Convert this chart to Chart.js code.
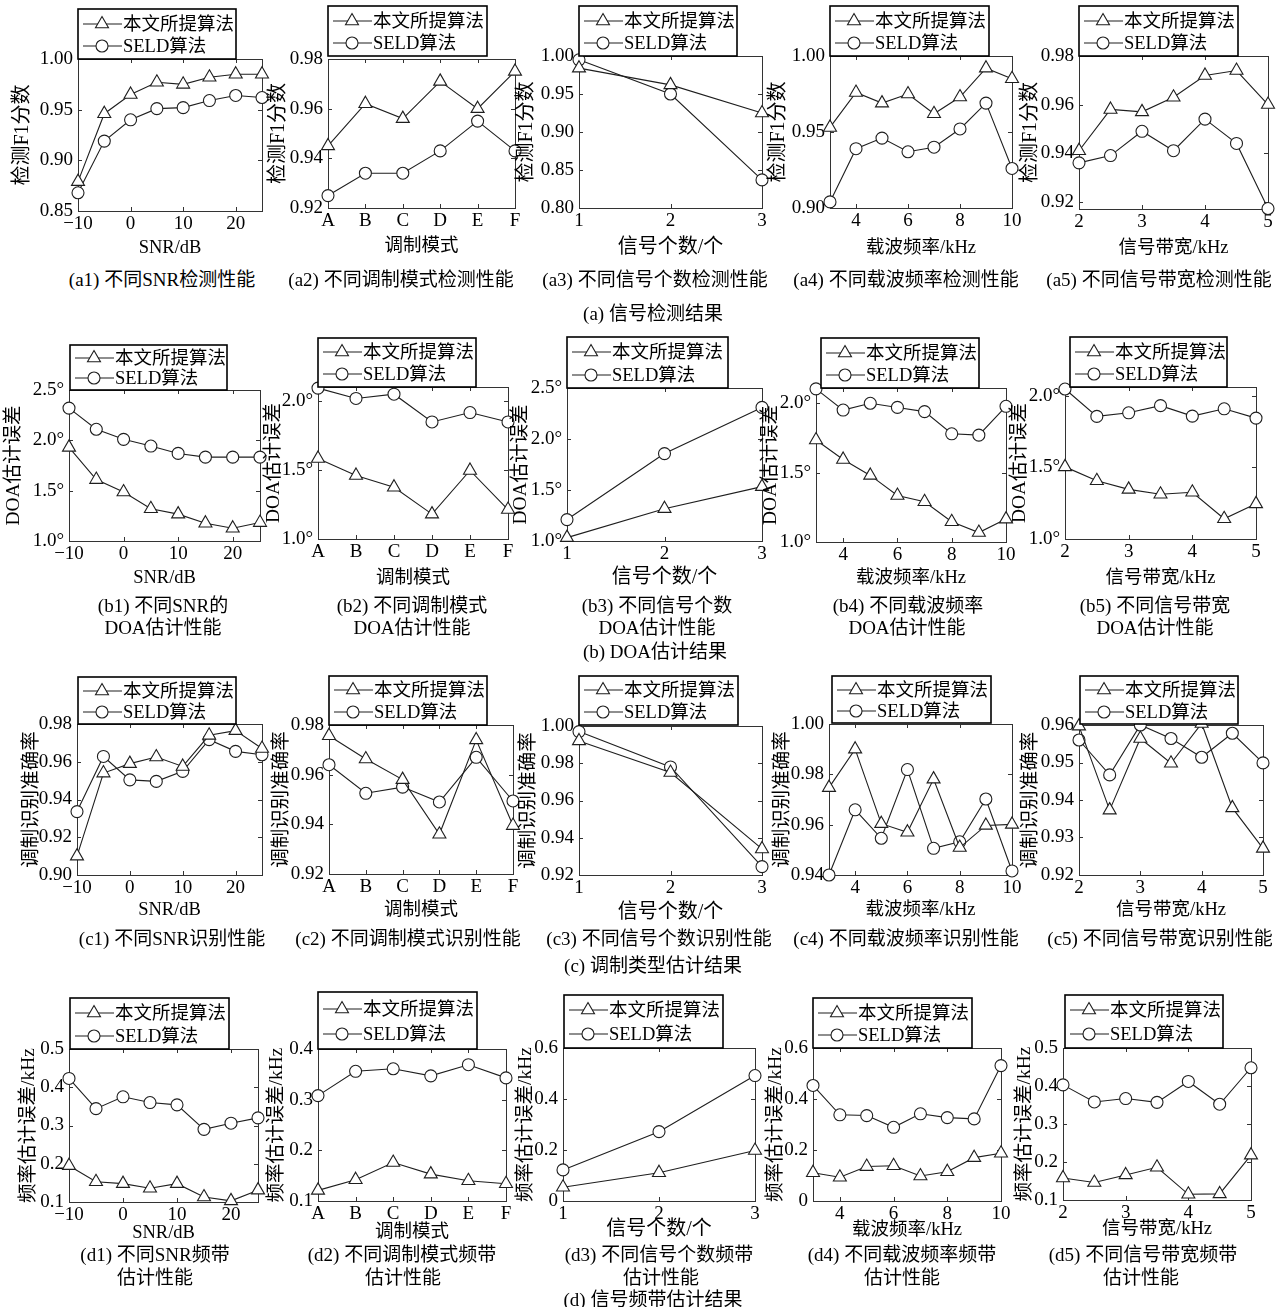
<!DOCTYPE html>
<html>
<head>
<meta charset="utf-8">
<script src="https://cdn.jsdelivr.net/npm/chart.js@4.4.1/dist/chart.umd.min.js"></script>
<style>
  body { margin: 0; background: #fff; }
  #page { position: relative; width: 1279px; height: 1307px; overflow: hidden; background: #fff; }
  #page canvas { position: absolute; }
  .cap { position: absolute; transform: translate(-50%, -50%); white-space: nowrap;
         font: 19px 'Liberation Serif', 'Noto Sans CJK SC', serif; color: #000; }
</style>
</head>
<body>
<div id="page"></div>
<script>
const FONT = "'Liberation Serif', 'Noto Sans CJK SC', serif";
const seriesNames = ['本文所提算法', 'SELD算法'];

// x categories
const snrX = [-10, -5, 0, 5, 10, 15, 20, 25];
const modeX = ['A', 'B', 'C', 'D', 'E', 'F'];
const countX = [1, 2, 3];
const carrierX = [3, 4, 5, 6, 7, 8, 9, 10];
const bandX = [2, 2.5, 3, 3.5, 4, 4.5, 5];

// x tick labels
const snrTicks = [-10, 0, 10, 20];
const countTicks = [1, 2, 3];
const carrierTicks = [4, 6, 8, 10];
const bandTicks = [2, 3, 4, 5];

// (a) detection F1
const a1Ours = [0.879, 0.946, 0.965, 0.977, 0.975, 0.982, 0.985, 0.985];
const a1Seld = [0.868, 0.919, 0.940, 0.951, 0.952, 0.959, 0.964, 0.962];
const a2Ours = [0.945, 0.962, 0.956, 0.971, 0.960, 0.975];
const a2Seld = [0.925, 0.934, 0.934, 0.943, 0.955, 0.943];
const a3Ours = [0.984, 0.962, 0.925];
const a3Seld = [0.995, 0.950, 0.837];
const a4Ours = [0.953, 0.976, 0.969, 0.975, 0.962, 0.973, 0.992, 0.985];
const a4Seld = [0.904, 0.939, 0.946, 0.937, 0.940, 0.952, 0.969, 0.926];
const a5Ours = [0.941, 0.958, 0.957, 0.963, 0.972, 0.974, 0.960];
const a5Seld = [0.936, 0.939, 0.949, 0.941, 0.954, 0.944, 0.9172];

// (b) DOA error (deg)
const b1Ours = [1.93, 1.61, 1.487, 1.32, 1.267, 1.177, 1.127, 1.183];
const b1Seld = [2.32, 2.11, 2.01, 1.943, 1.87, 1.833, 1.833, 1.833];
const b2Ours = [1.583, 1.46, 1.375, 1.18, 1.496, 1.213];
const b2Seld = [2.092, 2.017, 2.048, 1.847, 1.915, 1.847];
const b3Ours = [1.033, 1.317, 1.533];
const b3Seld = [1.21, 1.857, 2.31];
const b4Ours = [1.735, 1.595, 1.48, 1.335, 1.29, 1.146, 1.068, 1.165];
const b4Seld = [2.104, 1.951, 2.0, 1.97, 1.94, 1.78, 1.77, 1.978];
const b5Ours = [1.503, 1.406, 1.346, 1.312, 1.326, 1.141, 1.245];
const b5Seld = [2.046, 1.855, 1.88, 1.93, 1.857, 1.908, 1.843];

// (c) modulation accuracy
const c1Ours = [0.910, 0.954, 0.959, 0.9625, 0.9575, 0.974, 0.9765, 0.967];
const c1Seld = [0.9336, 0.9628, 0.9504, 0.9496, 0.9549, 0.9717, 0.9655, 0.9637];
const c2Ours = [0.9757, 0.9663, 0.958, 0.936, 0.974, 0.9395];
const c2Seld = [0.964, 0.9525, 0.955, 0.949, 0.967, 0.9494];
const c3Ours = [0.992, 0.975, 0.934];
const c3Seld = [0.997, 0.978, 0.9245];
const c4Ours = [0.9747, 0.990, 0.9604, 0.957, 0.9781, 0.9509, 0.9597, 0.9601];
const c4Seld = [0.9400, 0.9659, 0.9546, 0.9819, 0.9506, 0.9532, 0.9702, 0.9416];
const c5Ours = [0.9597, 0.9373, 0.9564, 0.9498, 0.9604, 0.9379, 0.9271];
const c5Seld = [0.956, 0.9467, 0.960, 0.9564, 0.9514, 0.9578, 0.9499];

// (d) band error (kHz)
const d1Ours = [0.195, 0.153, 0.148, 0.136, 0.148, 0.113, 0.103, 0.131];
const d1Seld = [0.423, 0.344, 0.375, 0.360, 0.354, 0.290, 0.306, 0.320];
const d2Ours = [0.121, 0.142, 0.176, 0.153, 0.140, 0.134];
const d2Seld = [0.308, 0.356, 0.361, 0.347, 0.369, 0.343];
const d3Ours = [0.054, 0.111, 0.198];
const d3Seld = [0.122, 0.272, 0.492];
const d4Ours = [0.111, 0.093, 0.135, 0.138, 0.098, 0.115, 0.170, 0.187];
const d4Seld = [0.453, 0.338, 0.335, 0.289, 0.342, 0.327, 0.322, 0.531];
const d5Ours = [0.158, 0.146, 0.166, 0.186, 0.115, 0.116, 0.218];
const d5Seld = [0.403, 0.358, 0.367, 0.357, 0.412, 0.352, 0.448];

const f2 = v => v.toFixed(2);
const fDeg = v => v.toFixed(1) + '°';
const f1 = v => (v === 0 ? '0' : v.toFixed(1));
const fX = v => (v < 0 ? '−' + Math.abs(v) : String(v));

const yTitleA = '检测F1分数', yTitleB = 'DOA估计误差', yTitleC = '调制识别准确率', yTitleD = '频率估计误差/kHz';

// plot: [left, top, right, bottom] of the axes box on the page; legend: box on the page
const panels = [
  {xs: snrX, xTicks: snrTicks, ours: a1Ours, seld: a1Seld, y: [0.85, 1.00], yTicks: [0.85, 0.90, 0.95, 1.00], fmt: f2,
   xTitle: 'SNR/dB', yTitle: yTitleA, plot: [78, 59, 262, 211], legend: [78, 9, 236, 59], yOff: -55, xOff: 37},
  {xs: modeX, ours: a2Ours, seld: a2Seld, y: [0.92, 0.98], yTicks: [0.92, 0.94, 0.96, 0.98], fmt: f2,
   xTitle: '调制模式', yTitle: yTitleA, plot: [328, 59, 515, 208], legend: [328, 6, 487, 56], yOff: -49, xOff: 38},
  {xs: countX, xTicks: countTicks, ours: a3Ours, seld: a3Seld, y: [0.80, 1.00], yTicks: [0.80, 0.85, 0.90, 0.95, 1.00], fmt: f2,
   xTitle: '信号个数/个', yTitle: yTitleA, plot: [579, 56, 762, 208], legend: [579, 6, 737, 56], yOff: -52, xOff: 40, xTitleSize: 20},
  {xs: carrierX, xTicks: carrierTicks, ours: a4Ours, seld: a4Seld, y: [0.90, 1.00], yTicks: [0.90, 0.95, 1.00], fmt: f2,
   xTitle: '载波频率/kHz', yTitle: yTitleA, plot: [830, 56, 1012, 208], legend: [830, 6, 989, 56], yOff: -51, xOff: 40},
  {xs: bandX, xTicks: bandTicks, ours: a5Ours, seld: a5Seld, y: [0.917, 0.98], yTicks: [0.92, 0.94, 0.96, 0.98], fmt: f2,
   xTitle: '信号带宽/kHz', yTitle: yTitleA, plot: [1079, 56, 1268, 209], legend: [1079, 6, 1238, 56], yOff: -48, xOff: 39},

  {xs: snrX, xTicks: snrTicks, ours: b1Ours, seld: b1Seld, y: [1.0, 2.5], yTicks: [1.0, 1.5, 2.0, 2.5], fmt: fDeg,
   xTitle: 'SNR/dB', yTitle: yTitleB, plot: [69, 390, 260, 541], legend: [70, 345, 227, 390], yOff: -55, xOff: 37},
  {xs: modeX, ours: b2Ours, seld: b2Seld, y: [1.0, 2.1], yTicks: [1.0, 1.5, 2.0], fmt: fDeg,
   xTitle: '调制模式', yTitle: yTitleB, plot: [318, 387, 508, 539], legend: [318, 338, 476, 387], yOff: -44, xOff: 39},
  {xs: countX, xTicks: countTicks, ours: b3Ours, seld: b3Seld, y: [1.0, 2.5], yTicks: [1.0, 1.5, 2.0, 2.5], fmt: fDeg,
   xTitle: '信号个数/个', yTitle: yTitleB, plot: [567, 388, 762, 541], legend: [567, 337, 728, 388], yOff: -46, xOff: 37, xTitleSize: 20},
  {xs: carrierX, xTicks: carrierTicks, ours: b4Ours, seld: b4Seld, y: [1.0, 2.11], yTicks: [1.0, 1.5, 2.0], fmt: fDeg,
   xTitle: '载波频率/kHz', yTitle: yTitleB, plot: [816, 388, 1006, 542], legend: [821, 338, 979, 388], yOff: -45, xOff: 36},
  {xs: bandX, xTicks: bandTicks, ours: b5Ours, seld: b5Seld, y: [1.0, 2.06], yTicks: [1.0, 1.5, 2.0], fmt: fDeg,
   xTitle: '信号带宽/kHz', yTitle: yTitleB, plot: [1065, 387, 1256, 539], legend: [1070, 337, 1227, 387], yOff: -45, xOff: 39},

  {xs: snrX, xTicks: snrTicks, ours: c1Ours, seld: c1Seld, y: [0.90, 0.98], yTicks: [0.90, 0.92, 0.94, 0.96, 0.98], fmt: f2,
   xTitle: 'SNR/dB', yTitle: yTitleC, plot: [77, 724, 262, 875], legend: [78, 677, 236, 724], yOff: -45, xOff: 35},
  {xs: modeX, ours: c2Ours, seld: c2Seld, y: [0.92, 0.98], yTicks: [0.92, 0.94, 0.96, 0.98], fmt: f2,
   xTitle: '调制模式', yTitle: yTitleC, plot: [329, 725, 513, 874], legend: [329, 676, 487, 725], yOff: -47, xOff: 36},
  {xs: countX, xTicks: countTicks, ours: c3Ours, seld: c3Seld, y: [0.92, 1.00], yTicks: [0.92, 0.94, 0.96, 0.98, 1.00], fmt: f2,
   xTitle: '信号个数/个', yTitle: yTitleC, plot: [579, 726, 762, 875], legend: [579, 676, 738, 725], yOff: -50, xOff: 38, xTitleSize: 20},
  {xs: carrierX, xTicks: carrierTicks, ours: c4Ours, seld: c4Seld, y: [0.94, 1.00], yTicks: [0.94, 0.96, 0.98, 1.00], fmt: f2,
   xTitle: '载波频率/kHz', yTitle: yTitleC, plot: [829, 724, 1012, 875], legend: [832, 676, 991, 723], yOff: -46, xOff: 35},
  {xs: bandX, xTicks: bandTicks, ours: c5Ours, seld: c5Seld, y: [0.92, 0.96], yTicks: [0.92, 0.93, 0.94, 0.95, 0.96], fmt: f2,
   xTitle: '信号带宽/kHz', yTitle: yTitleC, plot: [1079, 725, 1263, 875], legend: [1080, 676, 1238, 724], yOff: -48, xOff: 35},

  {xs: snrX, xTicks: snrTicks, ours: d1Ours, seld: d1Seld, y: [0.1, 0.5], yTicks: [0.1, 0.2, 0.3, 0.4, 0.5], fmt: f1,
   xTitle: 'SNR/dB', yTitle: yTitleD, plot: [69, 1049, 258, 1202], legend: [70, 998, 229, 1049], yOff: -40, xOff: 31},
  {xs: modeX, ours: d2Ours, seld: d2Seld, y: [0.1, 0.4], yTicks: [0.1, 0.2, 0.3, 0.4], fmt: f1,
   xTitle: '调制模式', yTitle: yTitleD, plot: [318, 1049, 506, 1201], legend: [318, 992, 477, 1049], yOff: -41, xOff: 31},
  {xs: countX, xTicks: countTicks, ours: d3Ours, seld: d3Seld, y: [0, 0.6], yTicks: [0, 0.2, 0.4, 0.6], fmt: f1,
   xTitle: '信号个数/个', yTitle: yTitleD, plot: [563, 1048, 755, 1201], legend: [564, 995, 723, 1048], yOff: -37, xOff: 29, xTitleSize: 20},
  {xs: carrierX, xTicks: carrierTicks, ours: d4Ours, seld: d4Seld, y: [0, 0.6], yTicks: [0, 0.2, 0.4, 0.6], fmt: f1,
   xTitle: '载波频率/kHz', yTitle: yTitleD, plot: [813, 1048, 1001, 1201], legend: [813, 998, 972, 1048], yOff: -37, xOff: 29},
  {xs: bandX, xTicks: bandTicks, ours: d5Ours, seld: d5Seld, y: [0.1, 0.5], yTicks: [0.1, 0.2, 0.3, 0.4, 0.5], fmt: f1,
   xTitle: '信号带宽/kHz', yTitle: yTitleD, plot: [1063, 1048, 1251, 1200], legend: [1065, 995, 1223, 1048], yOff: -38, xOff: 29}
];

const captions = [
  ['(a1) 不同SNR检测性能', 162, 277], ['(a2) 不同调制模式检测性能', 401, 277], ['(a3) 不同信号个数检测性能', 655, 277],
  ['(a4) 不同载波频率检测性能', 906, 277], ['(a5) 不同信号带宽检测性能', 1159, 277], ['(a) 信号检测结果', 653, 311],
  ['(b1) 不同SNR的', 163, 603], ['DOA估计性能', 163, 625], ['(b2) 不同调制模式', 412, 603], ['DOA估计性能', 412, 625],
  ['(b3) 不同信号个数', 657, 603], ['DOA估计性能', 657, 625], ['(b4) 不同载波频率', 908, 603], ['DOA估计性能', 907, 625],
  ['(b5) 不同信号带宽', 1155, 603], ['DOA估计性能', 1155, 625], ['(b) DOA估计结果', 655, 649],
  ['(c1) 不同SNR识别性能', 172, 936], ['(c2) 不同调制模式识别性能', 408, 936], ['(c3) 不同信号个数识别性能', 659, 936],
  ['(c4) 不同载波频率识别性能', 906, 936], ['(c5) 不同信号带宽识别性能', 1160, 936], ['(c) 调制类型估计结果', 653, 963],
  ['(d1) 不同SNR频带', 155, 1252], ['估计性能', 155, 1275], ['(d2) 不同调制模式频带', 402, 1252], ['估计性能', 403, 1275],
  ['(d3) 不同信号个数频带', 659, 1252], ['估计性能', 661, 1275], ['(d4) 不同载波频率频带', 902, 1252], ['估计性能', 902, 1275],
  ['(d5) 不同信号带宽频带', 1143, 1252], ['估计性能', 1141, 1275], ['(d) 信号频带估计结果', 653, 1297]
];

Chart.defaults.font.family = FONT;
Chart.defaults.color = '#000';

const INK = '#1e1e1e';
const PAD_L = 80, PAD_R = 14, PAD_B = 52;

function markerPath(ctx, style, x, y, r) {
  ctx.beginPath();
  if (style === 'triangle') {
    ctx.moveTo(x, y - r);
    ctx.lineTo(x + r * 0.866, y + r * 0.5);
    ctx.lineTo(x - r * 0.866, y + r * 0.5);
    ctx.closePath();
  } else {
    ctx.arc(x, y, r, 0, Math.PI * 2);
  }
}

// axes box with inward ticks, like a matlab "box on" plot
const framePlugin = {
  id: 'frame',
  beforeDatasetsDraw(chart) {
    const {ctx, chartArea: a, scales} = chart;
    ctx.save();
    ctx.strokeStyle = '#333';
    ctx.lineWidth = 1;
    ctx.strokeRect(a.left + 0.5, a.top + 0.5, a.right - a.left, a.bottom - a.top);
    ctx.beginPath();
    scales.x.ticks.forEach((t, i) => {
      const px = Math.round(scales.x.getPixelForTick(i)) + 0.5;
      ctx.moveTo(px, a.bottom); ctx.lineTo(px, a.bottom - 4);
      ctx.moveTo(px, a.top); ctx.lineTo(px, a.top + 4);
    });
    scales.y.ticks.forEach((t, i) => {
      const py = Math.round(scales.y.getPixelForTick(i)) + 0.5;
      ctx.moveTo(a.left, py); ctx.lineTo(a.left + 4, py);
      ctx.moveTo(a.right, py); ctx.lineTo(a.right - 4, py);
    });
    ctx.stroke();
    ctx.restore();
  }
};

// boxed legend sitting on top of the axes
const boxLegendPlugin = {
  id: 'boxLegend',
  afterDraw(chart, args, opts) {
    const {ctx} = chart;
    const [x1, y1, x2, y2] = opts.box;
    const h = y2 - y1;
    ctx.save();
    ctx.fillStyle = '#fff';
    ctx.fillRect(x1, y1, x2 - x1, h);
    ctx.strokeStyle = '#000';
    ctx.lineWidth = 1.6;
    ctx.strokeRect(x1, y1, x2 - x1, h);
    ctx.font = '18.5px ' + FONT;
    ctx.textBaseline = 'middle';
    chart.data.datasets.forEach((ds, i) => {
      const ry = Math.round(y1 + h * (i === 0 ? 0.29 : 0.74));
      ctx.strokeStyle = INK;
      ctx.lineWidth = 1.1;
      ctx.beginPath();
      ctx.moveTo(x1 + 5, ry); ctx.lineTo(x1 + 44, ry);
      ctx.stroke();
      markerPath(ctx, ds.pointStyle, x1 + 24, ry, ds.pointRadius);
      ctx.fillStyle = '#fff';
      ctx.fill();
      ctx.stroke();
      ctx.fillStyle = '#000';
      ctx.fillText(ds.label, x1 + 45, ry + 1);
    });
    ctx.restore();
  }
};

const page = document.getElementById('page');

panels.forEach(p => {
  const [pl, pt, pr, pb] = p.plot;
  const top = Math.min(p.legend[1], pt) - 3;
  const left = pl - PAD_L;
  const w = pr - left + PAD_R;
  const h = pb + PAD_B - top;
  const canvas = document.createElement('canvas');
  canvas.width = w; canvas.height = h;
  canvas.style.left = left + 'px';
  canvas.style.top = top + 'px';
  canvas.style.width = w + 'px';
  canvas.style.height = h + 'px';
  page.appendChild(canvas);

  const isCat = typeof p.xs[0] === 'string';
  const toData = ys => (isCat ? ys.slice() : p.xs.map((x, i) => ({x: x, y: ys[i]})));
  const xTitleSize = p.xTitleSize || 18.5;
  const yTitleSize = p.yTitle === yTitleA ? 20 : 19.5;

  const xScale = isCat
    ? {type: 'category', labels: p.xs, offset: false}
    : {type: 'linear', min: p.xs[0], max: p.xs[p.xs.length - 1],
       afterBuildTicks: s => { s.ticks = p.xTicks.map(v => ({value: v})); }};

  Object.assign(xScale, {
    grid: {display: false, drawTicks: false},
    border: {display: false},
    ticks: {font: {size: 19}, padding: 2, maxRotation: 0, autoSkip: false,
            callback: isCat ? function (v) { return this.getLabelForValue(v); } : v => fX(v)},
    title: {display: true, text: p.xTitle, font: {size: xTitleSize},
            padding: {top: 0, bottom: PAD_B - p.xOff - xTitleSize * 0.6}},
    afterFit: s => { s.height = PAD_B; }
  });

  new Chart(canvas, {
    type: 'line',
    data: {
      labels: isCat ? p.xs : undefined,
      datasets: [
        {label: seriesNames[0], data: toData(p.ours), pointStyle: 'triangle', pointRadius: 7.5},
        {label: seriesNames[1], data: toData(p.seld), pointStyle: 'circle', pointRadius: 6}
      ].map(ds => Object.assign(ds, {
        borderColor: INK, borderWidth: 1.1, backgroundColor: '#fff',
        pointBorderColor: INK, pointBackgroundColor: '#fff', pointBorderWidth: 1.1,
        tension: 0, clip: false
      }))
    },
    options: {
      responsive: false,
      animation: false,
      events: [],
      layout: {padding: {left: 0, top: pt - top, right: PAD_R, bottom: 0}},
      plugins: {
        legend: {display: false},
        tooltip: {enabled: false},
        boxLegend: {box: [p.legend[0] - left, p.legend[1] - top, p.legend[2] - left, p.legend[3] - top]}
      },
      scales: {
        x: xScale,
        y: {
          type: 'linear', min: p.y[0], max: p.y[1],
          afterBuildTicks: s => { s.ticks = p.yTicks.map(v => ({value: v})); },
          grid: {display: false, drawTicks: false},
          border: {display: false},
          ticks: {font: {size: 19}, padding: 5, callback: v => p.fmt(v)},
          title: {display: true, text: p.yTitle, font: {size: yTitleSize},
                  padding: {top: PAD_L - yTitleSize * 0.6 + p.yOff, bottom: 0}},
          afterFit: s => { s.width = PAD_L; }
        }
      }
    },
    plugins: [framePlugin, boxLegendPlugin]
  });
});

captions.forEach(([text, x, y]) => {
  const d = document.createElement('div');
  d.className = 'cap';
  d.textContent = text;
  d.style.left = x + 'px';
  d.style.top = y + 'px';
  page.appendChild(d);
});
</script>
</body>
</html>
